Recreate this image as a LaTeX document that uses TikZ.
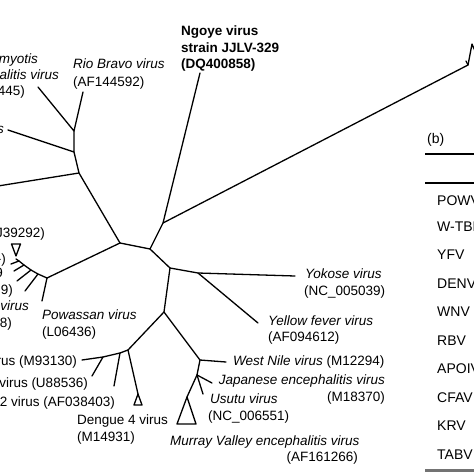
\documentclass[tikz,border=0pt]{standalone}
\usepackage{fontspec}
\setmainfont{Liberation Sans}
\begin{document}
\begin{tikzpicture}[x=1pt,y=-1pt,
  br/.style={line width=1.3pt, line cap=round, line join=round},
  lab/.style={inner sep=0pt, font=\fontsize{13.5}{16}\selectfont},
  ilab/.style={inner sep=0pt, font=\fontsize{13.5}{16}\selectfont\itshape},
  blab/.style={inner sep=0pt, font=\fontsize{13.5}{16}\selectfont\bfseries},
  tlab/.style={inner sep=0pt, font=\fontsize{14}{16}\selectfont, anchor=base west}]
\useasboundingbox (0,0) rectangle (474,474);
\clip (0,0) rectangle (474,474);
% internal nodes
\coordinate (nA) at (74,131);
\coordinate (nB) at (74,152);
\coordinate (nC) at (79,173);
\coordinate (nD) at (120,243);
\coordinate (nE) at (150,249);
\coordinate (nN) at (163,223);
\coordinate (nR) at (468,65);
\coordinate (nH) at (170,268);
\coordinate (nI) at (198,273);
\coordinate (nG) at (164,312);
\coordinate (nJ) at (128,350);
\coordinate (nJtwo) at (120,353);
\coordinate (nJthree) at (103,357);
\coordinate (nK) at (200,360);
\coordinate (nL) at (197,375);
\coordinate (nF) at (47,278);
% tips
\coordinate (tRB) at (83,92);
\coordinate (tMM) at (38,87);
\coordinate (tS) at (8,130);
\coordinate (tC) at (-2,186);
\coordinate (tNg) at (200,73);
\coordinate (tR) at (472,44);
\coordinate (tRb) at (478,58);
\coordinate (tRc) at (466,61);
\coordinate (tYok) at (295,276);
\coordinate (tYF) at (258,323);
\coordinate (tPow) at (42,301);
\coordinate (tMn) at (82,360);
\coordinate (tUe) at (92,376);
\coordinate (tAF) at (114,386);
\coordinate (tDf) at (138,394);
\coordinate (tWN) at (226,362);
\coordinate (tJE) at (212,383);
\coordinate (tUs) at (203,394);
\coordinate (tMV) at (187,397);
% arc of tick-borne clade
\coordinate (aZ) at (16,259);
\coordinate (aA) at (19,261);
\coordinate (aB) at (24,265);
\coordinate (aC) at (31,270);
\coordinate (aD) at (38,274);
\coordinate (kA) at (11,264);
\coordinate (kB) at (14,271);
\coordinate (kC) at (17,281);
\coordinate (kD) at (25,291);

% tree
\draw[br] (tRB) -- (nA) -- (tMM);
\draw[br] (nA) -- (nB) -- (tS);
\draw[br] (nB) -- (nC) -- (tC);
\draw[br] (nC) -- (nD) -- (nE) -- (nN) -- (tNg);
\draw[br] (nN) -- (nR) -- (tR) -- (tRb);
\draw[br] (nR) -- (tRc);
\draw[br] (nD) -- (nF);
\draw[br] (nF) -- (aD) -- (aC) -- (aB) -- (aA) -- (aZ);
\draw[br] (aA) -- (kA);
\draw[br] (aB) -- (kB);
\draw[br] (aC) -- (kC);
\draw[br] (aD) -- (kD);
\draw[br] (nF) -- (tPow);
\draw[br] (11.5,244) -- (20.5,244) -- (16,256) -- cycle;
\draw[br] (nE) -- (nH) -- (nI) -- (tYok);
\draw[br] (nI) -- (tYF);
\draw[br] (nH) -- (nG) -- (nJ);
\draw[br] (nJ) -- (nJtwo) -- (nJthree) -- (tMn);
\draw[br] (nJthree) -- (tUe);
\draw[br] (nJtwo) -- (tAF);
\draw[br] (nJ) -- (tDf);
\draw[br] (tDf) -- (134,405) -- (142,405) -- cycle;
\draw[br] (nG) -- (nK) -- (tWN);
\draw[br] (nK) -- (nL) -- (tJE);
\draw[br] (nL) -- (tUs);
\draw[br] (nL) -- (tMV);
\draw[br] (tMV) -- (177,424) -- (196,424) -- cycle;

% labels
\node[blab, anchor=base west] (ngA) at (181,35) {Ngoye virus};
\node[blab, anchor=base west] (ngB) at (181,52) {strain JJLV-329};
\node[blab, anchor=base west] (ngC) at (181,68) {(DQ400858)};
\node[ilab, anchor=base west] (rbA) at (73,68) {Rio Bravo virus};
\node[lab, anchor=base west] (rbB) at (73,86) {(AF144592)};
\node[ilab, anchor=base east] (mmA) at (38,63) {myotis};
\node[ilab, anchor=base east] (mmB) at (59,79) {alitis virus};
\node[lab, anchor=base east] (mmC) at (25,95) {445)};
\node[ilab, anchor=base east] (msA) at (4,133) {s};
\node[lab, anchor=base east] (tbA) at (45,237) {J39292)};
\node[lab, anchor=base east] (tbB) at (6,263) {-)};
\node[lab, anchor=base east] (tbC) at (3,277) {9};
\node[lab, anchor=base east] (tbD) at (13,294) {9)};
\node[ilab, anchor=base east] (tbE) at (29,310) {virus};
\node[lab, anchor=base east] (tbF) at (12,327) {8)};
\node[ilab, anchor=base west] (pwA) at (42,319) {Powassan virus};
\node[lab, anchor=base west] (pwB) at (42,336) {(L06436)};
\node[ilab, anchor=base west] (ykA) at (305,278) {Yokose virus};
\node[lab, anchor=base west] (ykB) at (304,295) {(NC\_005039)};
\node[ilab, anchor=base west] (yfA) at (268,325) {Yellow fever virus};
\node[lab, anchor=base west] (yfB) at (268,341) {(AF094612)};
\node[lab, anchor=base east] (dA) at (77,365) {rus (M93130)};
\node[lab, anchor=base east] (dB) at (88,387) {virus (U88536)};
\node[lab, anchor=base east] (dC) at (115,406) {2 virus (AF038403)};
\node[lab, anchor=base west] (dD) at (77,424) {Dengue 4 virus};
\node[lab, anchor=base west] (dE) at (77,441) {(M14931)};
\node[lab, anchor=base west] (wn) at (233,365) {\itshape West Nile virus\upshape{} (M12294)};
\node[ilab, anchor=base east] (jeA) at (385,384) {Japanese encephalitis virus};
\node[lab, anchor=base east] (jeB) at (385,401) {(M18370)};
\node[ilab, anchor=base west] (usA) at (210,403) {Usutu virus};
\node[lab, anchor=base west] (usB) at (208,420) {(NC\_006551)};
\node[ilab, anchor=base west] (mvA) at (170,445) {Murray Valley encephalitis virus};
\node[lab, anchor=base east] (mvB) at (358,461) {(AF161266)};

% table (b)
\node[tlab] (bl) at (427,143) {(b)};
\coordinate (rA) at (425,154);
\coordinate (rAe) at (480,154);
\coordinate (rB) at (425,183);
\coordinate (rBe) at (480,183);
\coordinate (rC) at (425,470);
\coordinate (rCe) at (480,470);
\draw[line width=2.4pt] (rA) -- (rAe);
\draw[line width=1.5pt] (rB) -- (rBe);
\draw[line width=3pt, black!55] (rC) -- (rCe);
\node[tlab] (tA) at (437,205) {POWV};
\node[tlab] (tB) at (437,231) {W-TBEV};
\node[tlab] (tC) at (437,259) {YFV};
\node[tlab] (tD) at (437,288) {DENV};
\node[tlab] (tE) at (437,316) {WNV};
\node[tlab] (tF) at (437,345) {RBV};
\node[tlab] (tG) at (437,373) {APOIV};
\node[tlab] (tH) at (437,402) {CFAV};
\node[tlab] (tI) at (437,430) {KRV};
\node[tlab] (tJ) at (437,459) {TABV};
\end{tikzpicture}
\end{document}
